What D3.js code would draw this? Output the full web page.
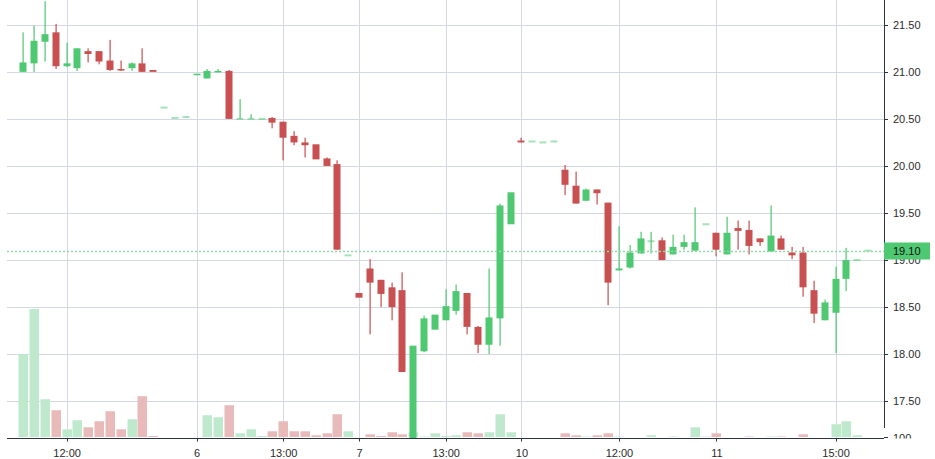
<!DOCTYPE html>
<html><head><meta charset="utf-8">
<script src="https://cdn.jsdelivr.net/npm/d3@7"></script>
<style>html,body{margin:0;padding:0;background:#fff;overflow:hidden}svg{display:block}</style>
</head><body>
<svg id="c" width="935" height="459"></svg>
<script>
// ---- data ----
const opens  = [21.00,21.09,21.32,21.42,21.06,21.04,21.22,21.22,21.12,21.03,21.04,21.09,21.02,20.62,20.51,20.52,20.97,20.93,21.00,21.01,
                20.50,20.50,20.50,20.51,20.47,20.32,20.25,20.23,20.08,20.02,19.05,18.65,18.91,18.79,18.71,18.68,16.90,18.03,18.26,18.36,
                18.46,18.65,18.29,18.10,18.38,19.38,20.27,20.26,20.25,20.26,19.96,19.79,19.63,19.75,19.61,18.89,18.92,19.07,19.20,19.21,
                19.06,19.14,19.10,19.38,19.29,19.06,19.34,19.32,19.23,19.09,19.23,19.08,19.08,18.68,18.36,18.44,18.80,19.00,19.10];
const highs  = [21.42,21.49,21.75,21.51,21.31,21.25,21.25,21.22,21.34,21.12,21.10,21.25,21.02,20.62,20.51,20.52,20.98,21.03,21.03,21.02,
                20.71,20.55,20.50,20.52,20.47,20.37,20.30,20.23,20.09,20.06,19.05,18.65,19.01,18.79,18.76,18.87,18.09,18.41,18.42,18.69,
                18.74,18.65,18.30,18.91,19.60,19.72,20.30,20.26,20.25,20.26,20.01,19.94,19.76,19.75,19.61,19.36,19.16,19.30,19.30,19.24,
                19.27,19.27,19.56,19.38,19.29,19.46,19.42,19.42,19.23,19.58,19.26,19.14,19.14,18.78,18.58,18.93,19.13,19.00,19.10];
const lows   = [21.00,21.00,21.11,21.03,21.05,21.01,21.10,21.08,21.01,21.01,21.01,21.00,21.00,20.62,20.51,20.52,20.97,20.93,21.00,20.50,
                20.50,20.50,20.50,20.40,20.06,20.22,20.09,20.07,20.00,19.11,19.05,18.60,18.21,18.50,18.36,17.81,16.90,18.02,18.26,18.36,
                18.42,18.21,18.01,18.00,18.09,19.38,20.25,20.26,20.25,20.26,19.69,19.60,19.63,19.59,18.52,18.89,18.91,19.07,19.07,19.00,
                19.06,19.11,19.10,19.38,19.04,19.06,19.11,19.06,19.15,19.09,19.11,19.01,18.61,18.33,18.36,18.01,18.67,19.00,19.10];
const closes = [21.10,21.33,21.40,21.06,21.09,21.25,21.19,21.11,21.02,21.02,21.09,21.00,21.00,20.62,20.51,20.52,20.98,21.01,21.01,20.50,
                20.50,20.50,20.50,20.46,20.30,20.25,20.22,20.07,20.00,19.11,19.05,18.60,18.76,18.64,18.50,17.81,18.09,18.38,18.42,18.51,
                18.67,18.29,18.10,18.39,19.58,19.72,20.25,20.26,20.25,20.26,19.80,19.60,19.75,19.71,18.76,18.91,19.08,19.23,19.20,19.00,
                19.14,19.19,19.19,19.38,19.11,19.29,19.31,19.15,19.19,19.26,19.11,19.05,18.71,18.43,18.55,18.80,19.00,19.00,19.10];
const volumes = [827,1277,377,267,77,167,97,157,257,77,177,407,10,0,0,0,0,217,197,317,
                 37,77,10,57,157,57,57,17,37,227,57,0,27,10,47,27,47,5,37,10,
                 17,47,37,47,227,47,0,0,0,0,37,17,5,17,37,5,0,0,17,0,
                 5,0,97,5,37,0,0,5,0,5,5,0,27,0,0,127,157,17,0];
const tickIndex  = [4,16,24,31,39,46,55,64,75];
const tickLabels = ["12:00","6","13:00","7","13:00","10","12:00","11","15:00"];
const priceTicks = [17.5,18,18.5,19,19.5,20,20.5,21,21.5];
const priceTickLabels = ["17.50","18.00","18.50","19.00","19.50","20.00","20.50","21.00","21.50"];
const lastPrice = 19.10;
const lastPriceLabel = "19.10";
const volumeAxisLabel = "100";

// ---- style ----
const UP = "#4ec871", DOWN = "#c95050";
const UPV = "#bfe9cd", DOWNV = "#e8baba";
const GRID = "#d3d8e1", AXIS = "#2f3540", TXT = "#2b2b2b";
const FONT = "'Liberation Sans', Arial, sans-serif";

const W = 935, H = 459;
const left = 7, right = 884, bottom = 438;
const n = opens.length;
const data = d3.range(n).map(i => ({i, o: opens[i], h: highs[i], l: lows[i], c: closes[i], v: volumes[i]}));

const x = d3.scaleLinear().domain([0, n - 1]).range([23.3, 23.3 + (n - 1) * 10.83]);
const y = d3.scaleLinear().domain([17.5, 21.5]).range([401.2, 24.8]);
const yV = d3.scaleLinear().domain([0, d3.max(volumes)]).range([437, 309]);

const svg = d3.select("#c");
const defs = svg.append("defs");
defs.append("clipPath").attr("id", "plot").append("rect").attr("x", left).attr("y", 0).attr("width", right - left).attr("height", bottom);
defs.append("clipPath").attr("id", "axisclip").append("rect").attr("x", right).attr("y", 0).attr("width", W - right).attr("height", bottom + 0.5);

// gridlines
const g = svg.append("g");
g.selectAll(".hg").data(priceTicks).join("line")
  .attr("x1", left).attr("x2", right)
  .attr("y1", d => Math.round(y(d)) + 0.5).attr("y2", d => Math.round(y(d)) + 0.5)
  .attr("stroke", GRID).attr("stroke-width", 1);
g.selectAll(".vg").data(tickIndex).join("line")
  .attr("x1", d => Math.round(x(d)) + 0.5).attr("x2", d => Math.round(x(d)) + 0.5)
  .attr("y1", 0).attr("y2", bottom)
  .attr("stroke", GRID).attr("stroke-width", 1);

const plot = svg.append("g").attr("clip-path", "url(#plot)");

// volume bars
plot.selectAll(".vol").data(data.filter(d => d.v > 0)).join("rect")
  .attr("x", d => Math.round(x(d.i)) - 4.5)
  .attr("width", 9.5)
  .attr("y", d => yV(d.v))
  .attr("height", d => yV(0) - yV(d.v))
  .attr("fill", d => d.c >= d.o ? UPV : DOWNV);

// wicks
plot.selectAll(".wick").data(data.filter(d => d.h > Math.max(d.o, d.c) || d.l < Math.min(d.o, d.c))).join("rect")
  .attr("x", d => Math.round(x(d.i)) - 0.5)
  .attr("width", 1.2)
  .attr("y", d => y(d.h))
  .attr("height", d => Math.max(1, y(d.l) - y(d.h)))
  .attr("fill", d => d.c >= d.o ? UP : DOWN);

// bodies
plot.selectAll(".body").data(data).join("rect")
  .attr("x", d => Math.round(x(d.i)) - 3.5)
  .attr("width", 7)
  .attr("y", d => d.o === d.c ? y(d.o) - 1 : y(Math.max(d.o, d.c)))
  .attr("height", d => d.o === d.c ? 2 : Math.max(1.5, Math.abs(y(d.o) - y(d.c))))
  .attr("fill", d => d.c >= d.o ? UP : DOWN)
  .attr("fill-opacity", d => d.o === d.c ? 0.5 : 1);

// last price dotted line
svg.append("line")
  .attr("x1", left).attr("x2", right)
  .attr("y1", Math.round(y(lastPrice)) + 0.5).attr("y2", Math.round(y(lastPrice)) + 0.5)
  .attr("stroke", "#8fdaa6").attr("stroke-width", 1.6).attr("stroke-dasharray", "2,2");

// axes lines
svg.append("line").attr("x1", right + 0.5).attr("x2", right + 0.5).attr("y1", 0).attr("y2", 428)
  .attr("stroke", AXIS).attr("stroke-width", 1);
svg.append("line").attr("x1", left).attr("x2", right).attr("y1", bottom + 0.5).attr("y2", bottom + 0.5)
  .attr("stroke", AXIS).attr("stroke-width", 1);

// price axis ticks & labels
const pa = svg.append("g").attr("clip-path", "url(#axisclip)");
pa.selectAll(".pt").data(priceTicks).join("line")
  .attr("x1", right).attr("x2", right + 4)
  .attr("y1", d => Math.round(y(d)) + 0.5).attr("y2", d => Math.round(y(d)) + 0.5)
  .attr("stroke", AXIS);
pa.selectAll(".pl").data(priceTicks).join("text")
  .attr("x", 893).attr("y", d => y(d) + 4)
  .attr("font-family", FONT).attr("font-size", 11).attr("fill", TXT)
  .text((d, i) => priceTickLabels[i]);
// volume axis label (clipped)
pa.append("line").attr("x1", right).attr("x2", right + 4).attr("y1", 437.5).attr("y2", 437.5).attr("stroke", AXIS);
pa.append("text").attr("x", 893).attr("y", 441.5)
  .attr("font-family", FONT).attr("font-size", 11).attr("fill", TXT).text(volumeAxisLabel);

// last price label
const ly = y(lastPrice);
svg.append("rect").attr("x", right).attr("y", Math.round(ly) - 8.5).attr("width", 46).attr("height", 17)
  .attr("fill", UP);
svg.append("text").attr("x", 893).attr("y", ly + 4)
  .attr("font-family", FONT).attr("font-size", 11).attr("fill", "#111").text(lastPriceLabel);

// time axis
svg.selectAll(".tt").data(tickIndex).join("line")
  .attr("x1", d => Math.round(x(d)) + 0.5).attr("x2", d => Math.round(x(d)) + 0.5)
  .attr("y1", bottom).attr("y2", bottom + 3.5).attr("stroke", AXIS);
svg.selectAll(".tl").data(tickIndex).join("text")
  .attr("x", d => x(d) + 0.5).attr("y", 456.5)
  .attr("text-anchor", "middle")
  .attr("font-family", FONT).attr("font-size", 11).attr("fill", TXT)
  .text((d, i) => tickLabels[i]);
</script>
</body></html>
